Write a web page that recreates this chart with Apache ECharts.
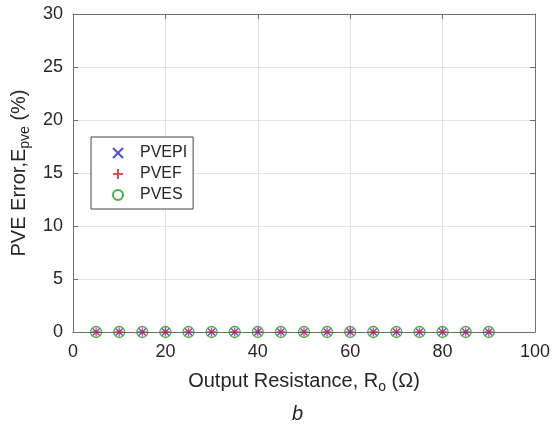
<!DOCTYPE html>
<html><head><meta charset="utf-8">
<script src="https://cdn.jsdelivr.net/npm/echarts@6/dist/echarts.min.js"></script>
<style>html,body{margin:0;padding:0;background:#fff}#c{width:558px;height:426px}</style>
</head><body><div id="c"></div>
<script>
const resistance = [5,10,15,20,25,30,35,40,45,50,55,60,65,70,75,80,85,90];
const pvepi = [0,0,0,0,0,0,0,0,0,0,0,0,0,0,0,0,0,0];
const pvef  = [0,0,0,0,0,0,0,0,0,0,0,0,0,0,0,0,0,0];
const pves  = [0,0,0,0,0,0,0,0,0,0,0,0,0,0,0,0,0,0];
const xTicks = [0,20,40,60,80,100];
const yTicks = [0,5,10,15,20,25,30];

const FONT = 'Liberation Sans, Arial, sans-serif';
const TXT = '#262626';
const AX = '#6e6e6e';
const crossPath = 'path://M0,0L10,10M10,0L0,10';
const plusPath = 'path://M5,0L5,10M0,5L10,5';

const chart = echarts.init(document.getElementById('c'));
function pairs(ys){ return resistance.map((x,i)=>[x,ys[i]]); }
const baseAxisLine = {show:true, onZero:false, lineStyle:{color:AX, width:1}};
const tick = {show:true, inside:true, length:5, lineStyle:{color:AX}};
chart.setOption({
  animation:false,
  grid:{left:73, top:14, width:462, height:318, containLabel:false},
  legend:{
    orient:'vertical', left:91, top:137,
    padding:[8,6,6,21], itemGap:5, itemWidth:10, itemHeight:10,
    borderColor:'#444', borderWidth:1, backgroundColor:'#fff',
    textStyle:{fontFamily:FONT, fontSize:16, lineHeight:16, color:TXT, padding:[0,0,0,12]},
    data:['PVEPI','PVEF','PVES']
  },
  xAxis:[{
    type:'value', min:0, max:100, interval:20, position:'bottom',
    axisLine:baseAxisLine, axisTick:tick,
    axisLabel:{fontFamily:FONT, fontSize:18, color:TXT, margin:11,
      formatter:v=>xTicks.includes(v)?String(v):''},
    splitLine:{show:true, lineStyle:{color:'#e3e3e3', width:1}},
    name:'{a|Output Resistance, R}{s|o}{a| (Ω)}', nameLocation:'middle', nameGap:36,
    nameTextStyle:{rich:{a:{fontFamily:FONT, fontSize:20, color:TXT}, s:{fontFamily:FONT, fontSize:14, color:TXT, padding:[12,0,0,0]}}}
  },{
    type:'value', min:0, max:100, interval:20, position:'top',
    axisLine:baseAxisLine, axisTick:tick,
    axisLabel:{show:false}, splitLine:{show:false}
  }],
  yAxis:[{
    type:'value', min:0, max:30, interval:5, position:'left',
    axisLine:baseAxisLine, axisTick:tick,
    axisLabel:{fontFamily:FONT, fontSize:18, color:TXT, margin:10,
      formatter:v=>yTicks.includes(v)?String(v):''},
    splitLine:{show:true, lineStyle:{color:'#e3e3e3', width:1}},
    name:'{a|PVE Error,E}{s|pve}{a| (%)}', nameLocation:'middle', nameGap:38,
    nameTextStyle:{rich:{a:{fontFamily:FONT, fontSize:20, color:TXT}, s:{fontFamily:FONT, fontSize:14, color:TXT, padding:[12,0,0,0]}}}
  },{
    type:'value', min:0, max:30, interval:5, position:'right',
    axisLine:baseAxisLine, axisTick:tick,
    axisLabel:{show:false}, splitLine:{show:false}
  }],
  graphic:[{type:'text', left:292, top:404, style:{text:'b', font:'italic 20px '+FONT, fill:TXT}}],
  series:[
    {name:'PVES', type:'scatter', data:pairs(pves), symbol:'circle', symbolSize:11, z:3,
     itemStyle:{color:'rgba(0,0,0,0)', borderColor:'#1a9a1a', borderWidth:1.3}},
    {name:'PVEPI', type:'scatter', data:pairs(pvepi), symbol:crossPath, symbolSize:7, z:4,
     itemStyle:{color:'rgba(0,0,0,0)', borderColor:'#2020d0', borderWidth:1.3}},
    {name:'PVEF', type:'scatter', data:pairs(pvef), symbol:plusPath, symbolSize:9, z:5,
     itemStyle:{color:'rgba(0,0,0,0)', borderColor:'#e02020', borderWidth:1.3}}
  ]
});
</script></body></html>
